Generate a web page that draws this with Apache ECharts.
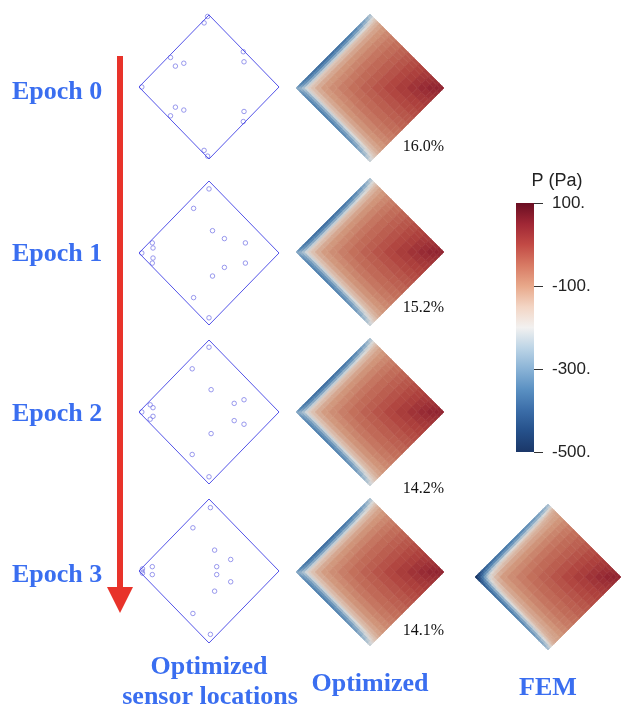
<!DOCTYPE html>
<html><head><meta charset="utf-8">
<script src="https://cdn.jsdelivr.net/npm/echarts@6/dist/echarts.min.js"></script>
<style>html,body{margin:0;padding:0;background:#fff}#c{width:622px;height:709px}</style>
</head><body><div id="c"></div>
<script>
// ---------- data ----------
const epochLabels = ['Epoch 0', 'Epoch 1', 'Epoch 2', 'Epoch 3'];
const errorLabels = ['16.0%', '15.2%', '14.2%', '14.1%'];
const columnTitles = ['Optimized\nsensor locations', 'Optimized', 'FEM'];
const colorbarTitle = 'P (Pa)';
const colorbarMin = -500, colorbarMax = 100, colorbarStep = 200;
const colorbarTicks = [-500, -300, -100, 100];
// colour map, evenly spaced from -500 to 100
const palette = ['#1b3768','#25508a','#3b6da8','#5a90c2','#8ab3d6','#bcd4e6','#f2f1f0',
                 '#f3d5c4','#e8a88a','#d87a64','#c24a45','#a02735','#6a0e22'];
// domain outline (diamond) in local coordinates
const domainOutline = [[0,1],[1,0],[0,-1],[-1,0],[0,1]];
// sensor locations per epoch (local diamond coordinates)
const sensors0 = [[-0.02,0.98],[-0.07,0.89],[-0.55,0.41],[-0.48,0.29],[-0.36,0.33],[0.49,0.49],[0.50,0.35],[-0.96,0],[-0.48,-0.28],[-0.36,-0.32],[-0.55,-0.40],[0.50,-0.34],[0.49,-0.48],[-0.07,-0.88],[-0.02,-0.96]];
const sensors1 = [[0,0.89],[-0.22,0.62],[0.05,0.31],[0.22,0.20],[0.52,0.14],[-0.81,0.14],[-0.80,0.07],[-0.96,0],[-0.80,-0.07],[-0.81,-0.14],[0.22,-0.20],[0.52,-0.14],[0.05,-0.32],[-0.22,-0.62],[0,-0.90]];
const sensors2 = [[0,0.90],[-0.24,0.60],[0.03,0.31],[0.36,0.12],[0.50,0.17],[-0.84,0.10],[-0.80,0.06],[-0.96,0],[-0.80,-0.06],[-0.84,-0.10],[0.36,-0.12],[0.50,-0.17],[0.03,-0.30],[-0.24,-0.59],[0,-0.90]];
const sensors3 = [[0.02,0.88],[-0.23,0.60],[0.08,0.29],[0.31,0.16],[0.11,0.06],[0.11,-0.05],[0.31,-0.15],[0.08,-0.28],[-0.23,-0.59],[0.02,-0.88],[-0.81,0.06],[-0.81,-0.05],[-0.96,0],[-0.95,0.03],[-0.95,-0.03]];
// mesh lines of the pressure grid (fraction of each diamond side, finer near the left edges)
const gridEdges = [0,0.02,0.04,0.06,0.08,0.1,0.13,0.17,0.22,0.28,0.35,0.43,0.51,0.59,0.67,0.75,0.82,0.88,0.93,0.97,1];
// pressure fields (Pa); row = cell index away from the upper-left edge, col = cell index away from the lower-left edge
const pressureOptimized = [
[-290,-320,-340,-350,-358,-364,-370,-375,-378,-380,-380,-378,-372,-365,-355,-340,-320,-300,-275,-250],
[-290,-280,-300,-315,-325,-332,-338,-342,-345,-346,-346,-344,-340,-333,-323,-310,-293,-273,-252,-230],
[-310,-275,-250,-262,-272,-280,-285,-288,-290,-290,-288,-285,-280,-273,-264,-252,-238,-222,-208,-195],
[-320,-290,-247,-210,-216,-220,-223,-225,-226,-226,-225,-223,-220,-216,-211,-205,-197,-187,-176,-165],
[-328,-300,-257,-208,-175,-174,-172,-170,-168,-166,-164,-162,-160,-158,-156,-153,-150,-148,-146,-145],
[-334,-307,-265,-212,-174,-150,-148,-146,-145,-143,-142,-141,-140,-139,-138,-137,-135,-133,-130,-128],
[-340,-313,-270,-215,-172,-148,-125,-123,-121,-119,-118,-117,-116,-115,-115,-114,-114,-113,-113,-112],
[-345,-317,-273,-217,-170,-146,-123,-105,-103,-101,-99,-97,-96,-95,-95,-95,-96,-96,-97,-97],
[-348,-320,-275,-218,-168,-145,-121,-103,-88,-85,-82,-80,-78,-77,-77,-77,-78,-79,-80,-82],
[-350,-321,-275,-218,-166,-143,-119,-101,-85,-70,-66,-62,-60,-59,-59,-60,-61,-63,-65,-67],
[-350,-321,-273,-217,-164,-142,-118,-99,-82,-66,-52,-48,-45,-44,-44,-45,-46,-48,-50,-52],
[-348,-319,-270,-215,-162,-141,-117,-97,-80,-62,-48,-35,-32,-31,-31,-32,-33,-35,-36,-38],
[-342,-315,-265,-212,-160,-140,-116,-96,-78,-60,-45,-32,-20,-18,-18,-19,-20,-22,-23,-25],
[-335,-308,-258,-208,-158,-139,-115,-95,-77,-59,-44,-31,-18,-5,-4,-5,-6,-8,-10,-12],
[-325,-298,-249,-203,-156,-138,-115,-95,-77,-59,-44,-31,-18,-4,10,8,6,4,2,0],
[-310,-285,-237,-197,-153,-137,-114,-95,-77,-60,-45,-32,-19,-5,8,25,22,19,15,12],
[-290,-268,-223,-189,-150,-135,-114,-96,-78,-61,-46,-33,-20,-6,6,22,37,33,28,22],
[-270,-248,-207,-179,-148,-133,-113,-96,-79,-63,-48,-35,-22,-8,4,19,33,47,40,32],
[-245,-227,-193,-168,-146,-130,-113,-97,-80,-65,-50,-36,-23,-10,2,15,28,40,50,44],
[-220,-205,-180,-157,-145,-128,-112,-97,-82,-67,-52,-38,-25,-12,0,12,22,32,44,48]
];
const pressureFEM = [
[-490,-470,-450,-435,-420,-408,-395,-385,-377,-370,-363,-355,-347,-338,-328,-316,-302,-288,-272,-255],
[-470,-440,-420,-400,-385,-370,-358,-348,-340,-333,-326,-318,-310,-300,-290,-280,-268,-255,-240,-225],
[-450,-420,-380,-360,-340,-322,-305,-292,-282,-274,-266,-258,-250,-242,-233,-223,-212,-200,-188,-178],
[-435,-400,-360,-310,-285,-262,-242,-228,-218,-210,-204,-198,-192,-186,-180,-173,-165,-157,-149,-141],
[-420,-385,-340,-285,-240,-215,-195,-182,-172,-165,-160,-156,-152,-148,-145,-141,-137,-133,-129,-125],
[-408,-370,-322,-262,-215,-185,-168,-156,-148,-142,-138,-135,-133,-131,-129,-127,-125,-122,-119,-116],
[-395,-358,-305,-242,-195,-168,-140,-128,-121,-118,-117,-116,-115,-114,-114,-113,-113,-112,-112,-111],
[-385,-348,-292,-228,-182,-156,-128,-105,-103,-101,-99,-97,-96,-95,-95,-95,-96,-96,-97,-97],
[-377,-340,-282,-218,-172,-148,-121,-103,-88,-85,-82,-80,-78,-77,-77,-77,-78,-79,-80,-82],
[-370,-333,-274,-210,-165,-142,-118,-101,-85,-70,-66,-62,-60,-59,-59,-60,-61,-63,-65,-67],
[-363,-326,-266,-204,-160,-138,-117,-99,-82,-66,-52,-48,-45,-44,-44,-45,-46,-48,-50,-52],
[-355,-318,-258,-198,-156,-135,-116,-97,-80,-62,-48,-35,-32,-31,-31,-32,-33,-35,-36,-38],
[-347,-310,-250,-192,-152,-133,-115,-96,-78,-60,-45,-32,-20,-18,-18,-19,-20,-22,-23,-25],
[-338,-300,-242,-186,-148,-131,-114,-95,-77,-59,-44,-31,-18,-5,-4,-5,-6,-8,-10,-12],
[-328,-290,-233,-180,-145,-129,-114,-95,-77,-59,-44,-31,-18,-4,10,8,6,4,2,0],
[-316,-280,-223,-173,-141,-127,-113,-95,-77,-60,-45,-32,-19,-5,8,25,22,19,15,12],
[-302,-268,-212,-165,-137,-125,-113,-96,-78,-61,-46,-33,-20,-6,6,22,37,33,28,22],
[-288,-255,-200,-157,-133,-122,-112,-96,-79,-63,-48,-35,-22,-8,4,19,33,47,40,32],
[-272,-240,-188,-149,-129,-119,-112,-97,-80,-65,-50,-36,-23,-10,2,15,28,40,50,44],
[-255,-225,-178,-141,-125,-116,-111,-97,-82,-67,-52,-38,-25,-12,0,12,22,32,44,48]
];

// ---------- layout ----------
const sensorSets = [sensors0, sensors1, sensors2, sensors3];
const fieldSets = [pressureOptimized, pressureOptimized, pressureOptimized, pressureOptimized, pressureFEM];
const sensorCenters = [[209,87],[209,253],[209,412],[209,571]];
const heatCenters = [[370,88],[370,252],[370,412],[370,572],[548,577]];
const blue = '#3a6ef0';
const serif = 'Liberation Serif';
const sans = 'Liberation Sans';

function shade(hex, f) {
  const n = parseInt(hex.slice(1), 16);
  const r = Math.round(((n >> 16) & 255) * f), g = Math.round(((n >> 8) & 255) * f), b = Math.round((n & 255) * f);
  return 'rgb(' + r + ',' + g + ',' + b + ')';
}
const heatPalette = palette.map(c => shade(c, 0.9));

const grids = [], xAxes = [], yAxes = [], series = [];
function addGrid(cx, cy, w, h) {
  grids.push({left: cx - w / 2, top: cy - h / 2, width: w, height: h, containLabel: false});
  xAxes.push({gridIndex: grids.length - 1, type: 'value', min: -1, max: 1, show: false});
  yAxes.push({gridIndex: grids.length - 1, type: 'value', min: -1, max: 1, show: false});
  return grids.length - 1;
}
// sensor panels
sensorSets.forEach((pts, k) => {
  const gi = addGrid(sensorCenters[k][0], sensorCenters[k][1], 140, 144);
  series.push({type: 'line', xAxisIndex: gi, yAxisIndex: gi, data: domainOutline, symbol: 'none',
    lineStyle: {color: '#5353e8', width: 1}, silent: true, animation: false});
  series.push({type: 'scatter', xAxisIndex: gi, yAxisIndex: gi, data: pts, symbol: 'circle', symbolSize: 4.5,
    itemStyle: {color: 'rgba(0,0,0,0)', borderColor: '#8080e8', borderWidth: 1}, silent: true, animation: false});
});
// heat panels
const heatSeriesIdx = [];
fieldSets.forEach((field, k) => {
  const w = k === 4 ? 146 : 148;
  const gi = addGrid(heatCenters[k][0], heatCenters[k][1], w, w);
  const data = [];
  field.forEach((row, i) => row.forEach((v, j) => data.push([i, j, v])));
  heatSeriesIdx.push(series.length);
  series.push({
    type: 'custom', xAxisIndex: gi, yAxisIndex: gi, data: data, clip: false, silent: true, animation: false,
    encode: {x: 1, y: 0},
    renderItem: function (params, api) {
      const i = api.value(0), j = api.value(1);
      const pts = [[j, i], [j + 1, i], [j + 1, i + 1], [j, i + 1]].map(function (p) {
        const s = gridEdges[p[0]], t = gridEdges[p[1]];
        return api.coord([-1 + s + t, s - t]);
      });
      const c = api.visual('color');
      return {type: 'polygon', shape: {points: pts}, style: {fill: c, stroke: c, lineWidth: 0.7}};
    }
  });
});
// colour bar
grids.push({left: 516, top: 203, width: 18, height: 249, containLabel: false});
const cbi = grids.length - 1;
xAxes.push({gridIndex: cbi, type: 'value', min: 0, max: 1, show: false});
yAxes.push({gridIndex: cbi, type: 'value', min: colorbarMin, max: colorbarMax, interval: colorbarStep, position: 'right',
  axisLine: {show: false}, splitLine: {show: false}, axisTick: {show: false},
  axisLabel: {margin: 18, color: '#222', fontSize: 17, fontFamily: sans, formatter: function (v) { return v + '.'; }}});
series.push({
  type: 'custom', xAxisIndex: cbi, yAxisIndex: cbi, data: [[0, colorbarMin, colorbarMax]], silent: true, animation: false,
  encode: {x: 0, y: [1, 2]},
  renderItem: function (params, api) {
    const p0 = api.coord([0, api.value(1)]);
    const p1 = api.coord([1, api.value(2)]);
    const stops = palette.map(function (c, k) { return {offset: k / (palette.length - 1), color: c}; });
    return {type: 'rect', shape: {x: p0[0], y: p1[1], width: p1[0] - p0[0], height: p0[1] - p1[1]},
      style: {fill: new echarts.graphic.LinearGradient(0, 1, 0, 0, stops)}};
  }
});
// colour bar tick marks
series.push({
  type: 'custom', xAxisIndex: cbi, yAxisIndex: cbi, data: colorbarTicks.map(v => [1, v]), silent: true, animation: false,
  encode: {x: 0, y: 1}, clip: false,
  renderItem: function (params, api) {
    const p = api.coord([api.value(0), api.value(1)]);
    const y = Math.round(p[1]) + 0.5;
    return {type: 'line', shape: {x1: p[0], y1: y, x2: p[0] + 9, y2: y}, style: {stroke: '#333', lineWidth: 1}};
  }
});

// ---------- annotations ----------
const epochY = [94, 256, 416, 577];
const errY = [147, 308, 489, 631];
const graphic = [];
epochLabels.forEach((t, k) => graphic.push({type: 'text', left: 12, top: epochY[k] - 15,
  style: {text: t, fill: blue, font: 'bold 26px "' + serif + '"'}}));
errorLabels.forEach((t, k) => graphic.push({type: 'text', x: 444, y: errY[k],
  style: {text: t, fill: '#111', font: '16px "' + serif + '"', textAlign: 'right', textVerticalAlign: 'middle'}}));
graphic.push({type: 'rect', shape: {x: 117, y: 56, width: 6, height: 533}, style: {fill: '#e8332a'}});
graphic.push({type: 'polygon', shape: {points: [[107, 587], [133, 587], [120, 613]]}, style: {fill: '#e8332a'}});
const titleLines = columnTitles[0].split('\n');
graphic.push({type: 'text', x: 209, y: 667, style: {text: titleLines[0], fill: blue, font: 'bold 26px "' + serif + '"', textAlign: 'center', textVerticalAlign: 'middle'}});
graphic.push({type: 'text', x: 210, y: 697, style: {text: titleLines[1], fill: blue, font: 'bold 26px "' + serif + '"', textAlign: 'center', textVerticalAlign: 'middle'}});
graphic.push({type: 'text', x: 370, y: 684, style: {text: columnTitles[1], fill: blue, font: 'bold 26px "' + serif + '"', textAlign: 'center', textVerticalAlign: 'middle'}});
graphic.push({type: 'text', x: 548, y: 688, style: {text: columnTitles[2], fill: blue, font: 'bold 26px "' + serif + '"', textAlign: 'center', textVerticalAlign: 'middle'}});
graphic.push({type: 'text', x: 557, y: 181, style: {text: colorbarTitle, fill: '#222', font: '18px "' + sans + '"', textAlign: 'center', textVerticalAlign: 'middle'}});

const chart = echarts.init(document.getElementById('c'), null, {renderer: 'canvas'});
chart.setOption({
  animation: false,
  grid: grids, xAxis: xAxes, yAxis: yAxes,
  visualMap: [{type: 'continuous', show: false, min: colorbarMin, max: colorbarMax, dimension: 2,
    seriesIndex: heatSeriesIdx, inRange: {color: heatPalette}}],
  series: series,
  graphic: graphic
});
</script></body></html>
